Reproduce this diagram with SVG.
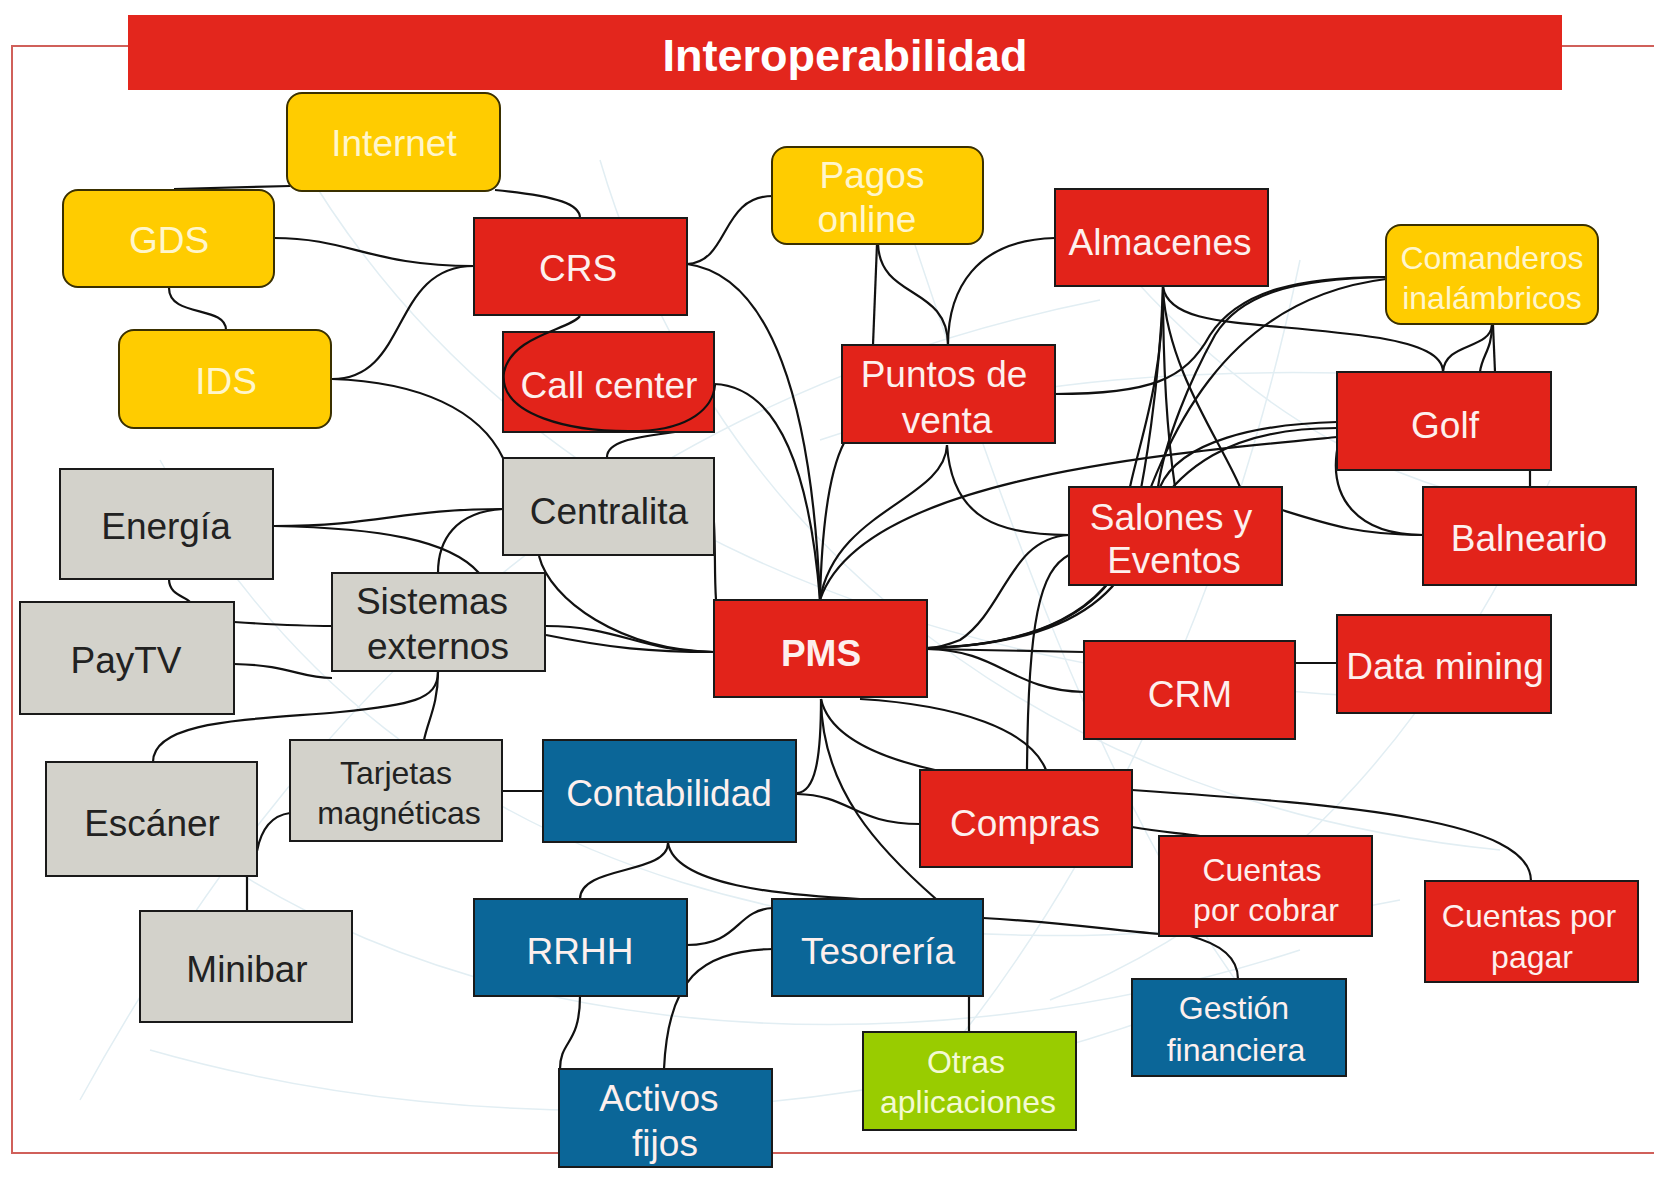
<svg xmlns="http://www.w3.org/2000/svg" width="1654" height="1182" viewBox="0 0 1654 1182">
<style>
.bg{fill:none;stroke:#e2eef3;stroke-width:1.5}
.frame{fill:none;stroke:#d0605a;stroke-width:2}
.c path{fill:none;stroke:#111;stroke-width:2.2}
.n rect{stroke:#1a1a1a;stroke-width:2}
.red rect{fill:#e2231a}
.yel rect{fill:#ffcc00;stroke:#3a3000}
.gry rect{fill:#d3d2cb}
.blu rect{fill:#0b6698}
.grn rect{fill:#99cc00}
text{font-family:"Liberation Sans",Arial,sans-serif;text-anchor:middle;dominant-baseline:central}
.red text,.blu text{fill:#fdf0ee}
.yel text{fill:#fff6cc}
.grn text{fill:#f3fad2}
.gry text{fill:#222}
.L{font-size:37px}
.S{font-size:32px}
</style>
<rect width="1654" height="1182" fill="#fff"/>
<g id="background">
<path class="bg" d="M 80 1100 C 300 700, 600 400, 1100 300"/>
<path class="bg" d="M 160 460 C 400 900, 900 1000, 1400 900"/>
<path class="bg" d="M 120 780 C 400 1050, 900 1080, 1300 950"/>
<path class="bg" d="M 300 160 C 500 500, 900 700, 1500 700"/>
<path class="bg" d="M 600 160 C 700 500, 1000 800, 1500 850"/>
<path class="bg" d="M 900 200 C 1000 500, 1100 800, 1250 1000"/>
<path class="bg" d="M 1100 240 C 1250 420, 1400 500, 1600 520"/>
<path class="bg" d="M 1300 260 C 1250 500, 1150 800, 950 1050"/>
<path class="bg" d="M 1550 480 C 1450 700, 1300 900, 1050 1000"/>
<path class="bg" d="M 820 440 C 1000 380, 1200 360, 1500 380"/>
<path class="bg" d="M 150 1050 C 500 1150, 900 1120, 1200 1000"/>
</g>
<path class="frame" d="M 128 46 H 12 V 1153 H 1654 M 1562 46 H 1654"/>
<g id="title">
<rect x="128" y="15" width="1434" height="75" fill="#e3261d"/>
<text x="845" y="55" font-size="45" font-weight="bold" fill="#fff">Interoperabilidad</text>
</g>
<g id="connectors" class="c">
<path d="M 174 189 L 290 186"/>
<path d="M 495 190 C 560 196, 580 205, 580 218"/>
<path d="M 274 238 C 350 238, 370 266, 474 266"/>
<path d="M 169 288 C 169 318, 226 305, 226 330"/>
<path d="M 332 379 C 410 379, 390 266, 474 266"/>
<path d="M 332 379 C 420 382, 480 410, 503 458"/>
<path d="M 675 432 C 640 437, 607 440, 607 457"/>
<path d="M 714 384 C 770 386, 808 450, 820 600"/>
<path d="M 687 264 C 730 262, 720 196, 773 196"/>
<path d="M 687 264 C 770 275, 812 400, 820 600"/>
<path d="M 877 244 L 873 345"/>
<path d="M 878 244 C 880 300, 948 285, 948 345"/>
<path d="M 1055 238 C 975 240, 948 290, 948 345"/>
<path d="M 844 443 C 830 470, 822 520, 820 600"/>
<path d="M 947 445 C 945 500, 835 510, 820 600"/>
<path d="M 947 445 C 952 520, 1000 535, 1069 535"/>
<path d="M 1337 437 C 1150 455, 860 480, 820 600"/>
<path d="M 1055 394 C 1150 394, 1185 380, 1210 335 C 1240 290, 1300 277, 1386 277"/>
<path d="M 1386 277 C 1290 279, 1240 295, 1215 335 C 1190 380, 1165 440, 1158 487"/>
<path d="M 1163 287 C 1170 330, 1260 320, 1380 338 C 1420 345, 1443 355, 1443 372"/>
<path d="M 1492 325 C 1490 350, 1445 342, 1443 372"/>
<path d="M 1492 325 C 1492 350, 1482 355, 1480 372"/>
<path d="M 1493 325 L 1495 372"/>
<path d="M 1163 287 C 1163 380, 1168 440, 1175 487"/>
<path d="M 1163 287 C 1163 380, 1140 440, 1130 487"/>
<path d="M 1163 290 C 1168 370, 1220 440, 1240 487"/>
<path d="M 1337 422 C 1260 424, 1180 440, 1160 487"/>
<path d="M 1339 440 C 1325 500, 1360 535, 1423 535"/>
<path d="M 1282 510 C 1330 525, 1360 535, 1423 535"/>
<path d="M 1530 470 L 1530 487"/>
<path d="M 1069 535 C 1010 538, 1005 610, 960 640 C 945 646, 935 648, 927 648"/>
<path d="M 1069 555 C 1040 570, 1028 620, 1027 770"/>
<path d="M 927 648 C 1040 645, 1110 610, 1130 540 C 1145 480, 1160 380, 1163 287"/>
<path d="M 927 648 C 1040 645, 1105 610, 1130 545 C 1165 440, 1220 300, 1386 279"/>
<path d="M 927 648 C 1040 645, 1110 612, 1135 550 C 1170 460, 1240 428, 1337 428"/>
<path d="M 927 649 L 1084 652"/>
<path d="M 927 649 C 1000 650, 1010 690, 1084 692"/>
<path d="M 1295 663 L 1337 663"/>
<path d="M 860 699 C 960 705, 1030 730, 1046 770"/>
<path d="M 821 699 C 830 740, 890 760, 935 770"/>
<path d="M 821 699 C 822 790, 880 850, 936 899"/>
<path d="M 821 699 C 821 760, 815 792, 797 793"/>
<path d="M 797 794 C 850 795, 855 824, 920 824"/>
<path d="M 502 791 L 543 791"/>
<path d="M 668 843 C 668 875, 580 865, 580 899"/>
<path d="M 668 843 C 675 885, 780 895, 860 899"/>
<path d="M 687 945 C 740 945, 735 910, 773 908"/>
<path d="M 773 949 C 700 950, 668 980, 664 1069"/>
<path d="M 580 996 C 580 1045, 560 1040, 560 1069"/>
<path d="M 969 996 L 969 1032"/>
<path d="M 983 918 C 1060 922, 1110 930, 1160 934"/>
<path d="M 1190 936 C 1225 945, 1238 960, 1238 979"/>
<path d="M 1132 790 C 1350 805, 1531 820, 1531 881"/>
<path d="M 1132 827 C 1160 832, 1180 833, 1200 836"/>
<path d="M 153 762 C 153 720, 250 720, 340 712 C 410 705, 438 700, 438 672"/>
<path d="M 438 672 C 438 705, 428 720, 424 740"/>
<path d="M 257 851 C 262 825, 275 815, 290 813"/>
<path d="M 247 876 L 247 911"/>
<path d="M 234 622 C 280 625, 300 626, 332 626"/>
<path d="M 234 664 C 290 665, 300 678, 332 678"/>
<path d="M 169 579 C 169 595, 185 596, 190 602"/>
<path d="M 274 526 C 380 526, 400 509, 503 509"/>
<path d="M 274 526 C 380 528, 450 540, 479 573"/>
<path d="M 503 509 C 455 512, 438 540, 438 573"/>
<path d="M 539 556 C 550 600, 620 650, 714 652"/>
<path d="M 546 626 C 620 626, 640 652, 714 652"/>
<path d="M 546 635 C 610 648, 650 652, 714 652"/>
<path d="M 713 509 C 716 540, 714 570, 716 600"/>
</g>
<g id="internet" class="n yel"><rect x="287" y="93" width="213" height="98" rx="15"/><text class="L" x="394" y="143">Internet</text></g>
<g id="gds" class="n yel"><rect x="63" y="190" width="211" height="97" rx="15"/><text class="L" x="169" y="240">GDS</text></g>
<g id="ids" class="n yel"><rect x="119" y="330" width="212" height="98" rx="15"/><text class="L" x="226" y="381">IDS</text></g>
<g id="crs" class="n red"><rect x="474" y="218" width="213" height="97"/><text class="L" x="578" y="268">CRS</text></g>
<g id="callcenter" class="n red"><rect x="503" y="332" width="211" height="100"/><text class="L" x="609" y="385">Call center</text></g>
<g id="pagos" class="n yel"><rect x="772" y="147" width="211" height="97" rx="15"/><text class="L" x="872" y="175">Pagos</text><text class="L" x="867" y="219">online</text></g>
<g id="almacenes" class="n red"><rect x="1055" y="189" width="213" height="97"/><text class="L" x="1160" y="242">Almacenes</text></g>
<g id="comanderos" class="n yel"><rect x="1386" y="225" width="212" height="99" rx="15"/><text class="S" x="1492" y="258">Comanderos</text><text class="S" x="1492" y="298">inalámbricos</text></g>
<g id="puntos" class="n red"><rect x="842" y="345" width="213" height="98"/><text class="L" x="944" y="374">Puntos de</text><text class="L" x="947" y="420">venta</text></g>
<g id="golf" class="n red"><rect x="1337" y="372" width="214" height="98"/><text class="L" x="1445" y="425">Golf</text></g>
<g id="centralita" class="n gry"><rect x="503" y="458" width="211" height="97"/><text class="L" x="609" y="511">Centralita</text></g>
<g id="energia" class="n gry"><rect x="60" y="469" width="213" height="110"/><text class="L" x="166" y="526">Energía</text></g>
<g id="salones" class="n red"><rect x="1069" y="487" width="213" height="98"/><text class="L" x="1171" y="517">Salones y</text><text class="L" x="1174" y="560">Eventos</text></g>
<g id="balneario" class="n red"><rect x="1423" y="487" width="213" height="98"/><text class="L" x="1529" y="538">Balneario</text></g>
<g id="sistemas" class="n gry"><rect x="332" y="573" width="213" height="98"/><text class="L" x="432" y="601">Sistemas</text><text class="L" x="438" y="646">externos</text></g>
<g id="paytv" class="n gry"><rect x="20" y="602" width="214" height="112"/><text class="L" x="126" y="660">PayTV</text></g>
<g id="pms" class="n red"><rect x="714" y="600" width="213" height="97"/><text class="L" x="821" y="653" font-weight="bold" fill="#fff">PMS</text></g>
<g id="datamining" class="n red"><rect x="1337" y="615" width="214" height="98"/><text class="L" x="1445" y="666">Data mining</text></g>
<g id="crm" class="n red"><rect x="1084" y="641" width="211" height="98"/><text class="L" x="1190" y="694">CRM</text></g>
<g id="escaner" class="n gry"><rect x="46" y="762" width="211" height="114"/><text class="L" x="152" y="823">Escáner</text></g>
<g id="tarjetas" class="n gry"><rect x="290" y="740" width="212" height="101"/><text class="S" x="396" y="773">Tarjetas</text><text class="S" x="399" y="813">magnéticas</text></g>
<g id="contabilidad" class="n blu"><rect x="543" y="740" width="253" height="102"/><text class="L" x="669" y="793">Contabilidad</text></g>
<g id="compras" class="n red"><rect x="920" y="770" width="212" height="97"/><text class="L" x="1025" y="823">Compras</text></g>
<g id="cuentascobrar" class="n red"><rect x="1159" y="836" width="213" height="100"/><text class="S" x="1262" y="870">Cuentas</text><text class="S" x="1266" y="910">por cobrar</text></g>
<g id="cuentaspagar" class="n red"><rect x="1425" y="881" width="213" height="101"/><text class="S" x="1529" y="916">Cuentas por</text><text class="S" x="1532" y="957">pagar</text></g>
<g id="rrhh" class="n blu"><rect x="474" y="899" width="213" height="97"/><text class="L" x="580" y="951">RRHH</text></g>
<g id="tesoreria" class="n blu"><rect x="772" y="899" width="211" height="97"/><text class="L" x="878" y="951">Tesorería</text></g>
<g id="minibar" class="n gry"><rect x="140" y="911" width="212" height="111"/><text class="L" x="247" y="969">Minibar</text></g>
<g id="gestion" class="n blu"><rect x="1132" y="979" width="214" height="97"/><text class="S" x="1234" y="1008">Gestión</text><text class="S" x="1236" y="1050">financiera</text></g>
<g id="otras" class="n grn"><rect x="863" y="1032" width="213" height="98"/><text class="S" x="966" y="1062">Otras</text><text class="S" x="968" y="1102">aplicaciones</text></g>
<g id="activos" class="n blu"><rect x="559" y="1069" width="213" height="98"/><text class="L" x="659" y="1098">Activos</text><text class="L" x="665" y="1143">fijos</text></g>
<g id="connector-crs-callcenter" class="c">
<path d="M 580 316 C 570 330, 512 335, 504 372 C 498 415, 570 433, 640 431 C 690 429, 713 408, 715 385"/>
</g>
</svg>
